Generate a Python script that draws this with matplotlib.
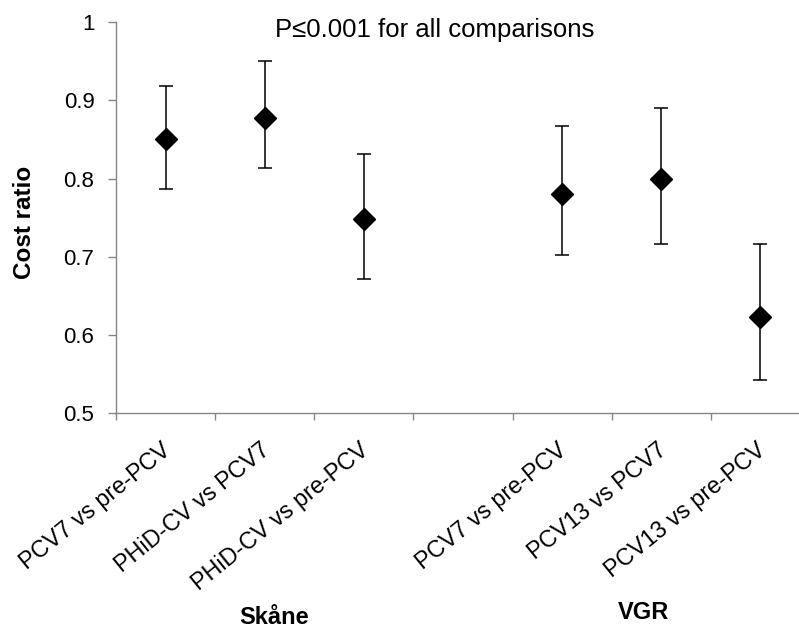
import numpy as np
import matplotlib
matplotlib.use("Agg")
import matplotlib.pyplot as plt
from matplotlib.ticker import FuncFormatter, FixedLocator
from matplotlib.transforms import ScaledTranslation

plt.rcParams['font.family'] = ['Liberation Sans', 'DejaVu Sans']

# comparisons (slot 4 is an empty gap between the two regions)
labels = ["PCV7 vs pre-PCV", "PHiD-CV vs PCV7", "PHiD-CV vs pre-PCV", "",
          "PCV7 vs pre-PCV", "PCV13 vs PCV7", "PCV13 vs pre-PCV"]
ratio = [0.851, 0.878, 0.748, np.nan, 0.780, 0.799, 0.623]
lower = [0.787, 0.814, 0.672, np.nan, 0.702, 0.717, 0.543]
upper = [0.918, 0.950, 0.831, np.nan, 0.867, 0.890, 0.716]
groups = ["Skåne", "VGR"]

x = np.arange(1, len(labels) + 1)
ratio = np.array(ratio)
err = np.array([ratio - np.array(lower), np.array(upper) - ratio])

fig = plt.figure(figsize=(7.99, 6.31), dpi=100)
ax = fig.add_axes([0.1452, 0.345, 0.8686, 0.620])

ax.errorbar(x, ratio, yerr=err, fmt='D', color='black', ms=11,
            ecolor='black', elinewidth=1.1, capsize=5, capthick=1.1)

ax.set_xlim(0.5, len(labels) + 0.5)
ax.set_ylim(0.5, 1.0)
ax.set_yticks(np.arange(0.5, 1.01, 0.1))
ax.yaxis.set_major_formatter(FuncFormatter(lambda v, p: '%g' % round(v, 2)))

for s in ['top', 'right']:
    ax.spines[s].set_visible(False)
for s in ['left', 'bottom']:
    ax.spines[s].set_color('#868686')
    ax.spines[s].set_linewidth(1.0)

ax.tick_params(axis='y', direction='out', length=5.5, width=1.0,
               color='#868686', labelsize=16, pad=10)
ax.set_xticks(x)
ax.set_xticklabels(labels)
ax.tick_params(axis='x', which='major', length=0, labelsize=16.8, pad=18)
ax.xaxis.set_minor_locator(FixedLocator(np.arange(0.5, len(labels) + 1, 1.0)))
ax.tick_params(axis='x', which='minor', direction='out', length=5, width=1.0,
               color='#868686')

# Excel-style slanted category labels
shift = ScaledTranslation(-3.6 / 72, 0, fig.dpi_scale_trans)
for lab in ax.get_xticklabels():
    lab.set_rotation(39)
    lab.set_ha('right')
    lab.set_va('top')
    lab.set_rotation_mode('anchor')
    lab.set_transform(lab.get_transform() + shift)

ax.set_ylabel("Cost ratio", fontsize=17.5, fontweight='bold')
ax.yaxis.set_label_coords(0.045, 0.648, transform=fig.transFigure)

fig.text(0.5444, 0.9525, "P\u22640.001 for all comparisons", fontsize=18.5,
         ha='center', va='center')
fig.text(0.343, 0.022, groups[0], fontsize=17, fontweight='bold',
         ha='center', va='center')
fig.text(0.805, 0.030, groups[1], fontsize=17, fontweight='bold',
         ha='center', va='center')

fig.savefig('out.png', dpi=100)
